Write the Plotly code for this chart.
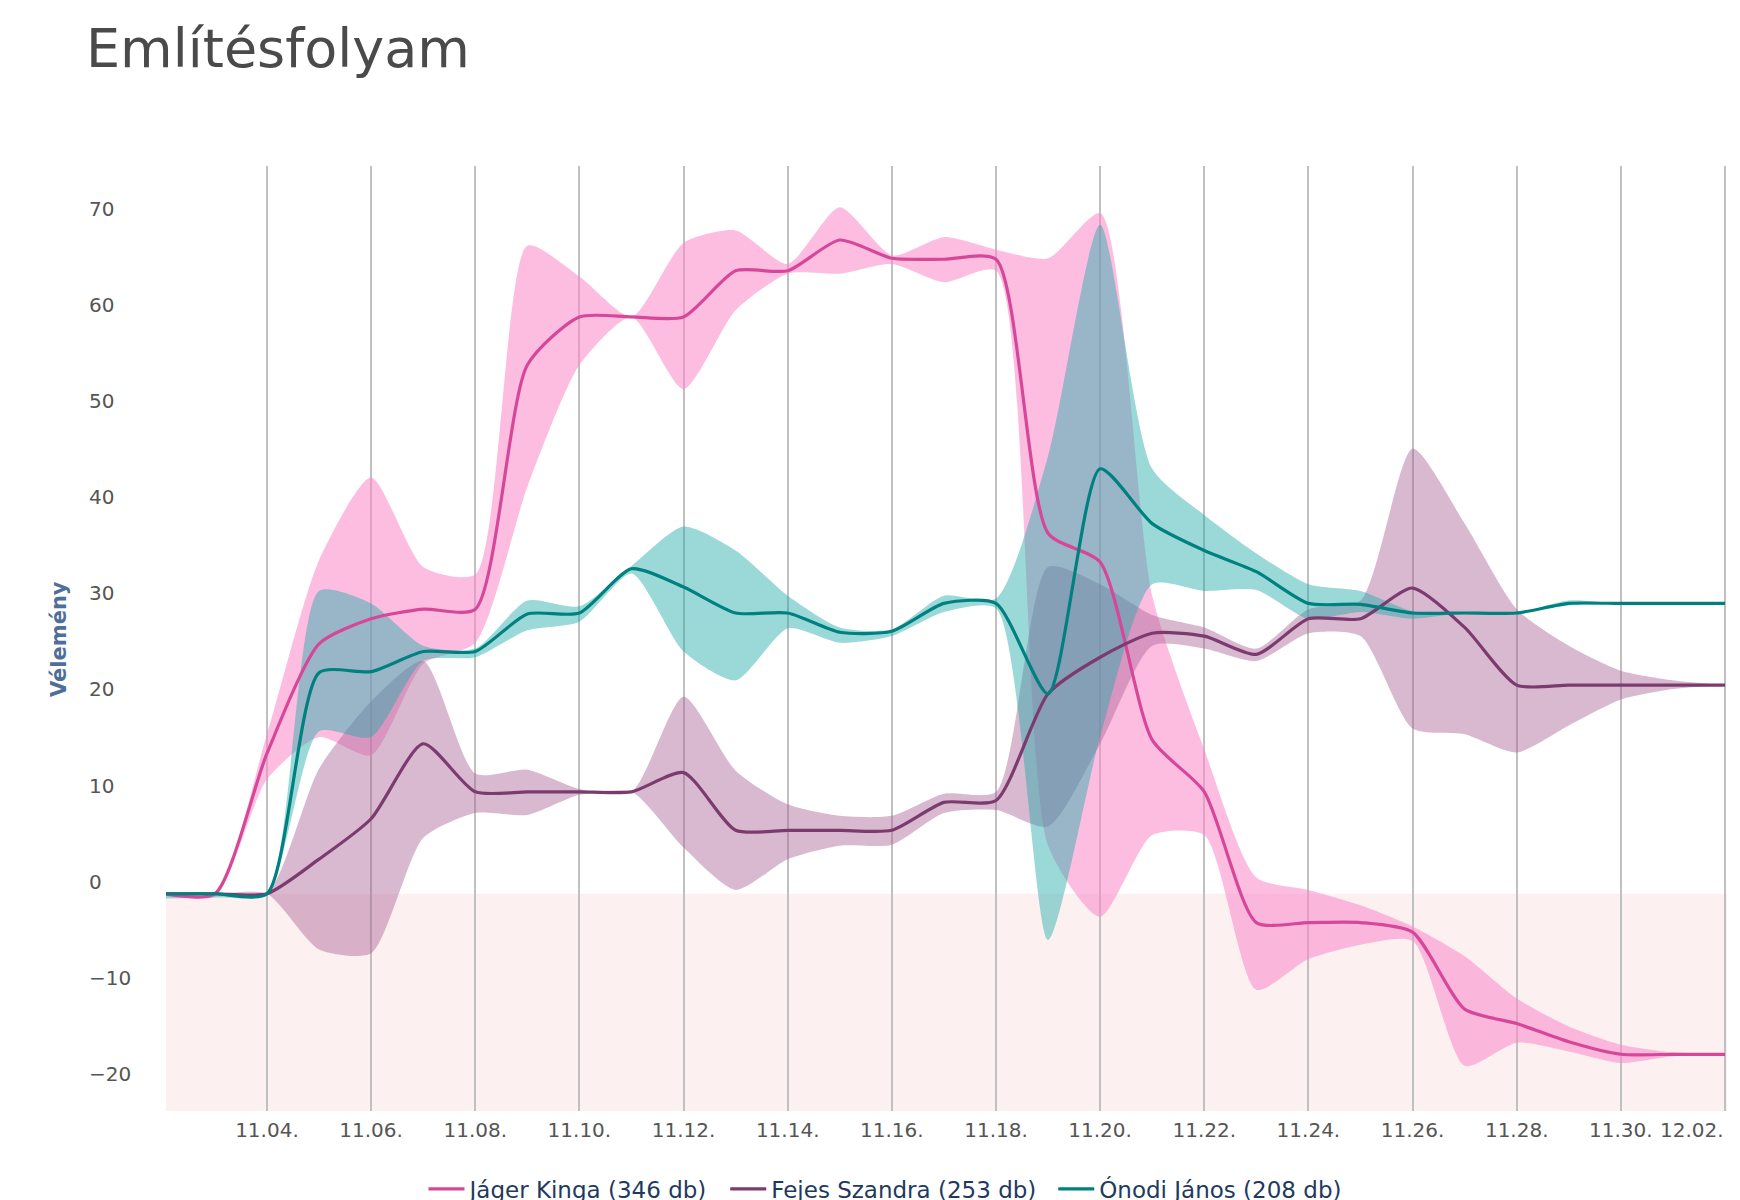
import plotly.graph_objects as go

# ---------------- data ----------------
dates = [
    "2023-11-02", "2023-11-03", "2023-11-04", "2023-11-05", "2023-11-06", "2023-11-07",
    "2023-11-08", "2023-11-09", "2023-11-10", "2023-11-11", "2023-11-12", "2023-11-13",
    "2023-11-14", "2023-11-15", "2023-11-16", "2023-11-17", "2023-11-18", "2023-11-19",
    "2023-11-20", "2023-11-21", "2023-11-22", "2023-11-23", "2023-11-24", "2023-11-25",
    "2023-11-26", "2023-11-27", "2023-11-28", "2023-11-29", "2023-11-30", "2023-12-01",
    "2023-12-02",
]

jager = [0, 0, 14.6, 26, 28.6, 29.6, 29.6, 55, 60, 60, 60, 64.8, 64.8, 68, 66.1, 66, 66,
         37.5, 34.5, 16, 10.6, -3, -3, -3, -4, -12, -13.5, -15.4, -16.7, -16.7, -16.7]
jager_hi = [0, 0, 16.6, 34.7, 43.3, 34, 33.2, 67.4, 64.2, 60, 67.7, 69, 65.5, 71.4, 66.4, 68.3, 67,
            66.1, 70.8, 31, 15, 1.7, 0.4, -1.2, -3.4, -6.5, -10.9, -13.8, -15.7, -16.5, -16.7]
jager_lo = [0, -0.3, 11.9, 16.3, 14.4, 23.9, 26.1, 42.3, 55, 60, 52.5, 60.7, 64.5, 64.5, 65.5, 63.6, 64.8,
            5, -2.4, 6.1, 6.1, -10, -6.8, -5.3, -4.9, -17.9, -15.5, -16.4, -17.6, -16.9, -16.7]

fejes = [0, 0, 0, 3.6, 7.8, 15.6, 10.6, 10.6, 10.6, 10.6, 12.6, 6.6, 6.6, 6.6, 6.6, 9.5, 9.7,
         20.8, 24.6, 27.1, 26.8, 24.9, 28.6, 28.6, 31.8, 27.7, 21.7, 21.7, 21.7, 21.7, 21.7]
fejes_hi = [0, 0, 0, 13, 20, 24.2, 12.5, 12.9, 10.9, 10.6, 20.5, 12.8, 9.3, 8.1, 8.1, 10.4, 10.6,
            34, 32.2, 29, 27.7, 25.5, 29.6, 30.5, 46.3, 38.5, 29.6, 25.8, 23.2, 22.2, 21.7]
fejes_lo = [0, 0, 0, -5.8, -6.2, 5.8, 8.4, 8.2, 10.3, 10.6, 4.8, 0.4, 3.6, 5, 5.1, 8.4, 8.7,
            7, 15.6, 25.8, 25.5, 24.2, 27.1, 26.8, 17.2, 16.6, 14.7, 17.5, 20.2, 21.3, 21.7]

onodi = [0, 0, 0, 23, 23.1, 25.2, 25.2, 29.1, 29.2, 33.8, 31.9, 29.2, 29.2, 27.2, 27.3, 30.2, 30.2,
         20.8, 44.2, 38.5, 35.7, 33.5, 30.2, 30.1, 29.2, 29.2, 29.2, 30.2, 30.2, 30.2, 30.2]
onodi_hi = [0, 0, 0, 31.5, 30.2, 25.8, 25.5, 30.5, 29.9, 34.1, 38.2, 35.7, 31, 27.7, 27.5, 31, 30.7,
            45.5, 69.6, 44.2, 39.4, 35.4, 32.2, 31.5, 29.4, 29.2, 29.2, 30.5, 30.2, 30.2, 30.2]
onodi_lo = [-0.5, -0.4, 0, 16.9, 16.3, 24.2, 24.6, 27.4, 28.3, 33.3, 25.2, 22.2, 27.6, 26.1, 26.8, 29.3, 29.7,
            -4.8, 16.3, 32.2, 31.5, 31.6, 28.6, 29.3, 28.6, 29.2, 29.2, 30, 30.2, 30.2, 30.2]

series_names = ["Jáger Kinga (346 db)", "Fejes Szandra (253 db)", "Ónodi János (208 db)"]

tick_dates = ["2023-11-04", "2023-11-06", "2023-11-08", "2023-11-10", "2023-11-12", "2023-11-14",
              "2023-11-16", "2023-11-18", "2023-11-20", "2023-11-22", "2023-11-24", "2023-11-26",
              "2023-11-28", "2023-11-30", "2023-12-02"]
tick_labels = ["11.04.", "11.06.", "11.08.", "11.10.", "11.12.", "11.14.", "11.16.", "11.18.",
               "11.20.", "11.22.", "11.24.", "11.26.", "11.28.", "11.30.", "12.02."]
y_ticks = [-20, -10, 0, 10, 20, 30, 40, 50, 60, 70]
y_labels = ["\u221220", "\u221210", "0", "10", "20", "30", "40", "50", "60", "70"]

title_text = "Említésfolyam"
y_title = "Vélemény"

# ---------------- styles ----------------
line_colors = ["#d6479a", "#7b3b6f", "#00807f"]
band_colors = ["rgba(250,135,200,0.55)", "rgba(171,99,150,0.45)", "rgba(33,171,171,0.45)"]
SMOOTH = 0.65
LEGEND_PAD = "\u00a0\u2009"

W, H = 1740, 1200
ML, MR, MT, MB = 77, 21, 158, 97
PW = W - ML - MR
PH = H - MT - MB
plot_left_px = 158
Y_MIN, Y_MAX = -22.6, 75.7

fig = go.Figure()

mids = [jager, fejes, onodi]
his = [jager_hi, fejes_hi, onodi_hi]
los = [jager_lo, fejes_lo, onodi_lo]

for i in range(3):
    fig.add_trace(go.Scatter(
        x=dates, y=los[i], mode="lines",
        line=dict(width=0, shape="spline", smoothing=SMOOTH),
        showlegend=False, hoverinfo="skip"))
    fig.add_trace(go.Scatter(
        x=dates, y=his[i], mode="lines",
        line=dict(width=0, shape="spline", smoothing=SMOOTH),
        fill="tonexty", fillcolor=band_colors[i],
        showlegend=False, hoverinfo="skip"))

for i in range(3):
    fig.add_trace(go.Scatter(
        x=dates, y=mids[i], mode="lines", name=series_names[i] + LEGEND_PAD,
        line=dict(color=line_colors[i], width=3.2, shape="spline", smoothing=SMOOTH)))

# last tick label is right-justified to the plot edge (as in the reference)
shown_tick_labels = tick_labels[:-1] + [""]

fig.update_layout(
    width=W, height=H,
    margin=dict(l=ML, r=MR, t=MT, b=MB, autoexpand=False),
    paper_bgcolor="white", plot_bgcolor="white",
    font=dict(family="DejaVu Sans", color="#555555", size=20),
    title=dict(text=title_text, xref="container", x=78 / W, xanchor="left",
               yref="container", y=1 - 40 / H, yanchor="middle",
               font=dict(size=54, color="#4a4a4a", family="DejaVu Sans")),
    xaxis=dict(domain=[(plot_left_px - ML) / PW, 1], type="date",
               range=["2023-11-02 01:28", "2023-12-02 00:55"],
               tickmode="array", tickvals=tick_dates, ticktext=shown_tick_labels,
               showgrid=True, gridcolor="#c0c0c0", gridwidth=1.5,
               ticks="", showline=False, zeroline=False,
               ticklabelstandoff=5,
               tickfont=dict(size=20, color="#555555")),
    yaxis=dict(anchor="free", position=0, range=[Y_MIN, Y_MAX],
               tickmode="array", tickvals=y_ticks, ticktext=y_labels,
               ticklabelposition="inside", ticklabelshift=-12,
               showgrid=False, zeroline=False, showline=False, ticks="",
               tickfont=dict(size=20, color="#555555")),
    legend=dict(orientation="h", traceorder="normal", itemwidth=36,
                xref="container", x=(870 + 13) / W, xanchor="center",
                yref="container", y=1 - 1181 / H, yanchor="middle",
                font=dict(size=23, color="#1f3a5f"), bgcolor="rgba(0,0,0,0)"),
    shapes=[dict(type="rect", xref="x domain", x0=0, x1=1, yref="y", y0=Y_MIN, y1=0,
                 fillcolor="#fdf0f1", line=dict(width=0), layer="below")],
    annotations=[
        dict(text="<b>" + y_title + "</b>", xref="paper", yref="paper",
             x=(51 - ML) / PW, y=(1103 - 631) / PH, xanchor="center", yanchor="middle",
             textangle=-90, showarrow=False,
             font=dict(size=21, color="#4d6f99", family="DejaVu Sans")),
        dict(text=tick_labels[-1], xref="x domain", yref="paper", x=1, y=0,
             xanchor="right", yanchor="middle", xshift=-1, yshift=-19, showarrow=False,
             font=dict(size=20, color="#555555", family="DejaVu Sans")),
    ],
)

fig.write_html("out.html")
